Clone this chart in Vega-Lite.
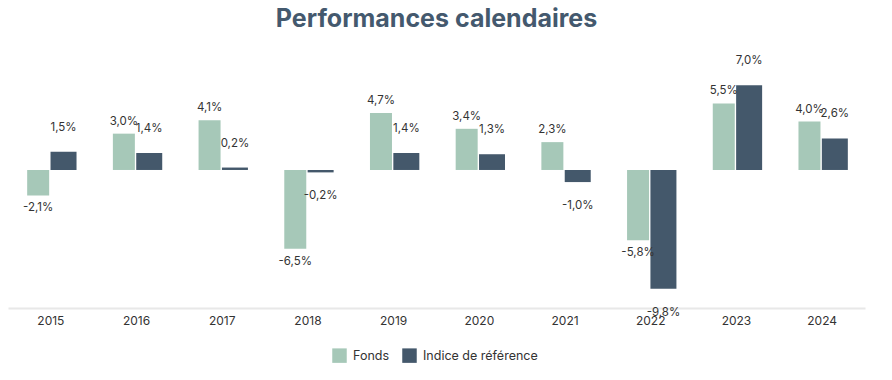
{
  "$schema": "https://vega.github.io/schema/vega-lite/v6.json",
  "width": 857,
  "height": 247,
  "autosize": {"type": "none"},
  "padding": {"left": 8, "top": 61, "right": 27, "bottom": 72},
  "title": {
    "text": "Performances calendaires",
    "fontSize": 25,
    "font": "Inter",
    "fontWeight": "bold",
    "color": "#44596e",
    "anchor": "middle",
    "offset": 23
  },
  "config": {
    "view": {"stroke": null},
    "font": "Inter",
    "text": {"font": "Inter"}
  },
  "data": {
    "values": [
      {"year": "2015", "series": "Fonds", "value": -2.1},
      {"year": "2015", "series": "Indice de référence", "value": 1.5},
      {"year": "2016", "series": "Fonds", "value": 3.0},
      {"year": "2016", "series": "Indice de référence", "value": 1.4},
      {"year": "2017", "series": "Fonds", "value": 4.1},
      {"year": "2017", "series": "Indice de référence", "value": 0.2},
      {"year": "2018", "series": "Fonds", "value": -6.5},
      {"year": "2018", "series": "Indice de référence", "value": -0.2},
      {"year": "2019", "series": "Fonds", "value": 4.7},
      {"year": "2019", "series": "Indice de référence", "value": 1.4},
      {"year": "2020", "series": "Fonds", "value": 3.4},
      {"year": "2020", "series": "Indice de référence", "value": 1.3},
      {"year": "2021", "series": "Fonds", "value": 2.3},
      {"year": "2021", "series": "Indice de référence", "value": -1.0},
      {"year": "2022", "series": "Fonds", "value": -5.8},
      {"year": "2022", "series": "Indice de référence", "value": -9.8},
      {"year": "2023", "series": "Fonds", "value": 5.5},
      {"year": "2023", "series": "Indice de référence", "value": 7.0},
      {"year": "2024", "series": "Fonds", "value": 4.0},
      {"year": "2024", "series": "Indice de référence", "value": 2.6}
    ]
  },
  "transform": [
    {"calculate": "replace(replace(format(datum.value, '.1f'), '.', ','), '\u2212', '-') + '%'", "as": "label"}
  ],
  "encoding": {
    "x": {
      "field": "year",
      "type": "nominal",
      "sort": null,
      "scale": {"paddingInner": 0.42, "paddingOuter": 0.21},
      "axis": {
        "title": null,
        "labelAngle": 0,
        "ticks": false,
        "domainColor": "#e8e8e8",
        "domainWidth": 2,
        "labelPadding": 7,
        "labelFontSize": 12,
        "labelColor": "#333333",
        "labelFont": "Inter"
      }
    },
    "xOffset": {
      "field": "series",
      "type": "nominal",
      "scale": {"domain": ["Fonds", "Indice de référence"], "paddingInner": 0.04}
    },
    "y": {
      "field": "value",
      "type": "quantitative",
      "scale": {"domain": [-11.4, 9], "nice": false},
      "axis": null
    }
  },
  "layer": [
    {
      "transform": [{"filter": "datum.series === 'Fonds'"}],
      "mark": {"type": "bar", "width": 22},
      "encoding": {
        "color": {
          "field": "series",
          "type": "nominal",
          "scale": {"domain": ["Fonds", "Indice de référence"], "range": ["#a6c8b8", "#44586b"]},
          "legend": {
            "title": null,
            "orient": "none",
            "legendX": 324,
            "legendY": 287,
            "direction": "horizontal",
            "symbolType": "square",
            "symbolSize": 210,
            "symbolStrokeWidth": 0,
            "labelFontSize": 12.5,
            "labelColor": "#333333",
            "labelFont": "Inter",
            "labelOffset": 6,
            "columnPadding": 12
          }
        }
      }
    },
    {
      "transform": [{"filter": "datum.series !== 'Fonds'"}],
      "mark": {"type": "bar", "width": 26},
      "encoding": {
        "color": {"field": "series", "type": "nominal"}
      }
    },
    {
      "transform": [{"filter": "datum.series === 'Fonds' && datum.value >= 0"}],
      "mark": {"type": "text", "dy": -12, "fontSize": 11.5, "color": "#333333", "baseline": "middle"},
      "encoding": {"text": {"field": "label"}}
    },
    {
      "transform": [{"filter": "datum.series === 'Fonds' && datum.value < 0"}],
      "mark": {"type": "text", "dy": 13, "fontSize": 11.5, "color": "#333333", "baseline": "middle"},
      "encoding": {"text": {"field": "label"}}
    },
    {
      "transform": [{"filter": "datum.series !== 'Fonds' && datum.value >= 0"}],
      "mark": {"type": "text", "dy": -24, "fontSize": 11.5, "color": "#333333", "baseline": "middle"},
      "encoding": {"text": {"field": "label"}}
    },
    {
      "transform": [{"filter": "datum.series !== 'Fonds' && datum.value < 0"}],
      "mark": {"type": "text", "dy": 24, "fontSize": 11.5, "color": "#333333", "baseline": "middle"},
      "encoding": {"text": {"field": "label"}}
    }
  ]
}
